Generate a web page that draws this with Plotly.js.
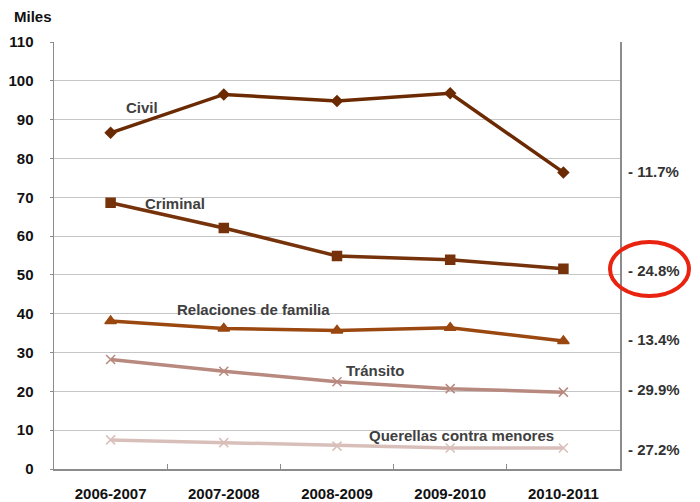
<!DOCTYPE html>
<html>
<head>
<meta charset="utf-8">
<script src="https://cdn.plot.ly/plotly-3.0.1.min.js"></script>
<style>html,body{margin:0;padding:0;background:#fff}#chart{width:700px;height:502px}</style>
</head>
<body>
<div id="chart"></div>
<script>
const categories = ["2006-2007", "2007-2008", "2008-2009", "2009-2010", "2010-2011"];
const civil = [86.6, 96.5, 94.8, 96.8, 76.4];
const criminal = [68.6, 62.1, 54.9, 53.9, 51.6];
const relaciones = [38.1, 36.2, 35.7, 36.4, 33.0];
const transito = [28.2, 25.2, 22.5, 20.7, 19.8];
const querellas = [7.5, 6.8, 5.9, 5.4, 5.4];
const seriesNames = ["Civil", "Criminal", "Relaciones de familia", "Tránsito", "Querellas contra menores"];
const changes = ["- 11.7%", "- 24.8%", "- 13.4%", "- 29.9%", "- 27.2%"];
const yTicks = [0, 10, 20, 30, 40, 50, 60, 70, 80, 90, 100, 110];

const FONT = "Liberation Sans, Arial, sans-serif";
const seriesData = [civil, criminal, relaciones, transito, querellas];
const colors = ["#6B2A02", "#76320B", "#9A4710", "#B8897F", "#D9BFBA"];
const symbols = ["diamond", "square", "triangle-up", "x-thin-open", "x-thin-open"];
const msizes = [8, 9, 10, 9, 9];

const traces = seriesData.map((vals, i) => ({
  x: categories, y: vals, type: "scatter", mode: "lines+markers",
  name: seriesNames[i],
  line: {color: colors[i], width: 3.5},
  marker: {symbol: symbols[i], size: msizes[i], color: colors[i], line: {color: colors[i], width: 1.5}},
  hoverinfo: "x+y"
}));

const labelPos = [[0.28, 93], [0.57, 68.4], [1.26, 41], [2.34, 25.4], [3.1, 8.6]];
const annotations = seriesNames.map((n, i) => ({
  x: labelPos[i][0], y: labelPos[i][1], xref: "x", yref: "y",
  text: n, showarrow: false,
  font: {family: FONT, size: 15, color: "#404040", weight: "bold"}
}));
const changeY = [76.6, 51.2, 33.4, 20.6, 5.1];
changes.forEach((c, i) => annotations.push({
  x: (626 - 54) / 566, y: changeY[i], xref: "paper", yref: "y", xanchor: "left",
  text: c, showarrow: false,
  font: {family: FONT, size: 15, color: "#333333", weight: "bold"}
}));
annotations.push({
  x: (12 - 54) / 566, y: (469 - 17) / 427, xref: "paper", yref: "paper",
  xanchor: "left", yanchor: "middle",
  text: "Miles", showarrow: false,
  font: {family: FONT, size: 15, color: "#111", weight: "bold"}
});

const layout = {
  width: 700, height: 502,
  margin: {l: 54, r: 80, t: 42, b: 33},
  paper_bgcolor: "#ffffff", plot_bgcolor: "#ffffff",
  showlegend: false,
  font: {family: FONT, size: 15, color: "#222"},
  xaxis: {
    type: "category", range: [-0.5, 4.5],
    showgrid: false, showline: true, linecolor: "#8c8c8c", linewidth: 1.5,
    ticks: "inside", tickson: "boundaries", ticklen: 5, tickcolor: "#8c8c8c",
    ticklabelstandoff: 10,
    tickfont: {family: FONT, size: 15, color: "#111", weight: "bold"},
    automargin: false, fixedrange: true
  },
  yaxis: {
    range: [0, 110], tickvals: yTicks, ticktext: yTicks.map(String),
    showgrid: true, gridcolor: "#c6c6c6", gridwidth: 1,
    showline: true, linecolor: "#8c8c8c", linewidth: 1.5, mirror: true,
    ticks: "outside", ticklen: 3, tickcolor: "#8c8c8c",
    ticklabelstandoff: 13,
    tickfont: {family: FONT, size: 15, color: "#111", weight: "bold"},
    zeroline: false, automargin: false, fixedrange: true
  },
  annotations: annotations,
  shapes: [{
    type: "circle", xref: "paper", yref: "paper",
    x0: (610 - 54) / 566, x1: (689 - 54) / 566,
    y0: (469 - 296) / 427, y1: (469 - 242) / 427,
    line: {color: "#E8230F", width: 4}
  }]
};

Plotly.newPlot("chart", traces, layout, {displayModeBar: false, staticPlot: true});
</script>
</body>
</html>
